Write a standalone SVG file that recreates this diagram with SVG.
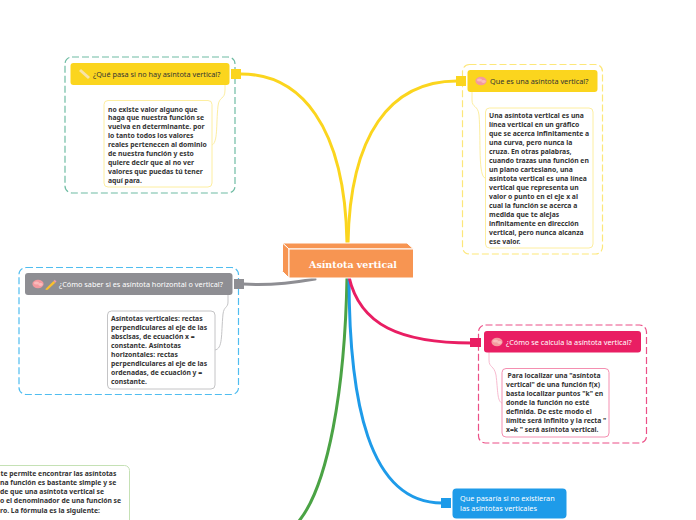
<svg xmlns="http://www.w3.org/2000/svg" width="696" height="520" viewBox="0 0 696 520">
<style>
text{font-family:"Noto Sans","Open Sans",sans-serif}
.b{font-size:6.8px;font-weight:700;fill:#333}
.h{font-size:7.3px;fill:#333}
.w{font-size:7.3px;fill:#fff}
.d{fill:none;stroke-width:1.2;stroke-dasharray:7 3}
.n{fill:#fff;stroke-width:1}
.c{fill:none;stroke-linecap:round}
</style>
<defs>
<g id="brain"><ellipse cx="0" cy="0" rx="5.6" ry="4.2" fill="#f49a9f"/><ellipse cx="-1.5" cy="-1" rx="2.6" ry="1.6" fill="#f9bcbc"/><ellipse cx="2.5" cy="0.5" rx="2.2" ry="1.4" fill="#f9bcbc"/></g>
<g id="pencil"><path d="M-4.5 4.5L3 -3 4.8 -1.2-2.8 5.8-5 6Z" fill="#fbc02d"/><path d="M3 -3L4.2 -4.2 6 -2.4 4.800 -1.200Z" fill="#e9a"/></g>
</defs>
<g id="connectors">
<path class="c" stroke="#fbd51e" stroke-width="3" d="M241 74C300 74 345 125 347 243"/>
<path class="c" stroke="#fbd51e" stroke-width="3" d="M348 243C350 135 390 81 457 81"/>
<path class="c" stroke="#8e8e93" stroke-width="3" d="M243 284C270 286 292 283 315 279"/>
<path class="c" stroke="#4ba345" stroke-width="3" d="M347 277C345 390 328 485 299 521"/>
<path class="c" stroke="#1e9be9" stroke-width="3" d="M349 277C349 400 368 503 442 503"/>
<path class="c" stroke="#e91e63" stroke-width="3" d="M349 277C360 325 400 343 472 343"/>
<path class="c" stroke="#fdeea0" d="M225 85V90C225 100 219 96 218 106C216 125 218 143 212 145"/>
<path class="c" stroke="#fdeea0" d="M472 92V100C472 108 478 105 479 115C481 140 478 177 485 178"/>
<path class="c" stroke="#c4c4c6" d="M228 295V302C228 308 224 306 223 314C221 335 223 349 215 350"/>
<path class="c" stroke="#f8bbd0" d="M489 352V360C489 368 494 365 496 375C498 390 497 402 502 403"/>
</g>
<g id="node-que-pasa">
<rect class="d" x="65" y="57" width="170" height="136" rx="7" stroke="#6fbca3"/>
<rect x="70.500" y="63" width="159" height="22" rx="3" fill="#fbd51e"/>
<rect x="231" y="69" width="10" height="10" fill="#fbd51e"/>
<path d="M80 70L89 78" stroke="#f7e3a8" stroke-width="3"/>
<text class="h" x="93" y="77">¿Qué pasa si no hay asíntota vertical?</text>
<rect class="n" x="104" y="100.500" width="108" height="86.500" rx="4" stroke="#fdeea0"/>
<text class="b" x="108" y="111.500">no existe valor alguno que</text>
<text class="b" x="108" y="120.300">haga que nuestra función se</text>
<text class="b" x="108" y="129">vuelva en determinante. por</text>
<text class="b" x="108" y="138">lo tanto todos los valores</text>
<text class="b" x="108" y="147">reales pertenecen al dominio</text>
<text class="b" x="108" y="156">de nuestra función y esto</text>
<text class="b" x="108" y="165">quiere decir que al no ver</text>
<text class="b" x="108" y="174">valores que puedas tú tener</text>
<text class="b" x="108" y="183">aquí para.</text>
</g>
<g id="node-que-es">
<rect class="d" x="462.500" y="64.500" width="140" height="189.500" rx="7" stroke="#fde77a"/>
<rect x="467.500" y="70" width="130" height="22" rx="3" fill="#fbd51e"/>
<rect x="456" y="76" width="10" height="10" fill="#fbd51e"/>
<use href="#brain" x="481" y="81"/>
<text class="h" x="490" y="84">Que es una asíntota vertical?</text>
<rect class="n" x="485.500" y="108" width="107.500" height="140" rx="4" stroke="#fdeea0"/>
<text class="b" x="489" y="118.300">Una asíntota vertical es una</text>
<text class="b" x="489" y="127.300">línea vertical en un gráfico</text>
<text class="b" x="489" y="136.300">que se acerca infinitamente a</text>
<text class="b" x="489" y="145.300">una curva, pero nunca la</text>
<text class="b" x="489" y="154.300">cruza. En otras palabras,</text>
<text class="b" x="489" y="163.300">cuando trazas una función en</text>
<text class="b" x="489" y="172.300">un plano cartesiano, una</text>
<text class="b" x="489" y="181.300">asíntota vertical es una línea</text>
<text class="b" x="489" y="190.300">vertical que representa un</text>
<text class="b" x="489" y="199.300">valor o punto en el eje x al</text>
<text class="b" x="489" y="208.300">cual la función se acerca a</text>
<text class="b" x="489" y="217.300">medida que te alejas</text>
<text class="b" x="489" y="226.300">infinitamente en dirección</text>
<text class="b" x="489" y="235.300">vertical, pero nunca alcanza</text>
<text class="b" x="489" y="244.300">ese valor.</text>
</g>
<g id="node-como-saber">
<rect class="d" x="19" y="267.500" width="219.500" height="127" rx="7" stroke="#4fbdf0"/>
<rect x="25" y="273" width="207.500" height="22" rx="3" fill="#8e8e93"/>
<rect x="234" y="279" width="10" height="10" fill="#8e8e93"/>
<use href="#brain" x="38" y="284"/>
<use href="#pencil" x="50.500" y="284"/>
<text class="w" x="59" y="287">¿Cómo saber si es asíntota horizontal o vertical?</text>
<rect class="n" x="107.500" y="311" width="107.500" height="78" rx="4" stroke="#c4c4c6"/>
<text class="b" x="111" y="321">Asíntotas verticales: rectas</text>
<text class="b" x="111" y="330">perpendiculares al eje de las</text>
<text class="b" x="111" y="339">abscisas, de ecuación x =</text>
<text class="b" x="111" y="348">constante. Asíntotas</text>
<text class="b" x="111" y="357">horizontales: rectas</text>
<text class="b" x="111" y="366">perpendiculares al eje de las</text>
<text class="b" x="111" y="375">ordenadas, de ecuación y =</text>
<text class="b" x="111" y="384">constante.</text>
</g>
<g id="node-como-calcula">
<rect class="d" x="478.500" y="325" width="168" height="118" rx="7" stroke="#ec4f87"/>
<rect x="484" y="331" width="157" height="21.500" rx="3" fill="#e91e63"/>
<rect x="470" y="338" width="11" height="9" fill="#e91e63"/>
<use href="#brain" x="497" y="342"/>
<text class="w" x="506" y="345">¿Cómo se calcula la asíntota vertical?</text>
<rect class="n" x="502" y="368.500" width="107" height="68.500" rx="4" stroke="#f48fb1"/>
<text class="b" x="507.500" y="377.500">Para localizar una "asíntota</text>
<text class="b" x="506" y="386.800">vertical" de una función f(x)</text>
<text class="b" x="506" y="395.800">basta localizar puntos "k" en</text>
<text class="b" x="506" y="404.800">donde la función no esté</text>
<text class="b" x="506" y="414.200">definida. De este modo el</text>
<text class="b" x="506" y="423.200">límite será infinito y la recta "</text>
<text class="b" x="506" y="432.200">x=k " será asíntota vertical.</text>
</g>
<g id="node-central">
<path d="M282.500 243H407L413.500 249H289Z" fill="#f79552" stroke="#fff"/>
<path d="M282.500 243L289 249V278L282.500 271.500Z" fill="#f79552" stroke="#fff"/>
<rect x="289" y="249" width="124.500" height="29" fill="#f79552" stroke="#fff"/>
<text x="353" y="267.500" text-anchor="middle" style="font-family:'DejaVu Serif',serif;font-size:9.500px;font-weight:700" fill="#fff">Asíntota vertical</text>
</g>
<g id="node-que-pasaria">
<rect x="441" y="498" width="10" height="10" fill="#1e9be9"/>
<rect x="452.500" y="488.500" width="114" height="30" rx="4" fill="#1e9be9"/>
<text class="w" x="460" y="501">Que pasaría si no existieran</text>
<text class="w" x="460" y="511">las asíntotas verticales</text>
</g>
<g id="node-formula">
<rect class="n" x="-20" y="465.500" width="149.500" height="80" rx="5" stroke="#c5e1b5"/>
<text class="b" x="0.500" y="476">te permite encontrar las asíntotas</text>
<text class="b" x="0" y="485">na función es bastante simple y se</text>
<text class="b" x="0" y="494">de que una asíntota vertical se</text>
<text class="b" x="0" y="503">o el denominador de una función se</text>
<text class="b" x="0" y="512.500">ro. La fórmula es la siguiente:</text>
</g>
</svg>
